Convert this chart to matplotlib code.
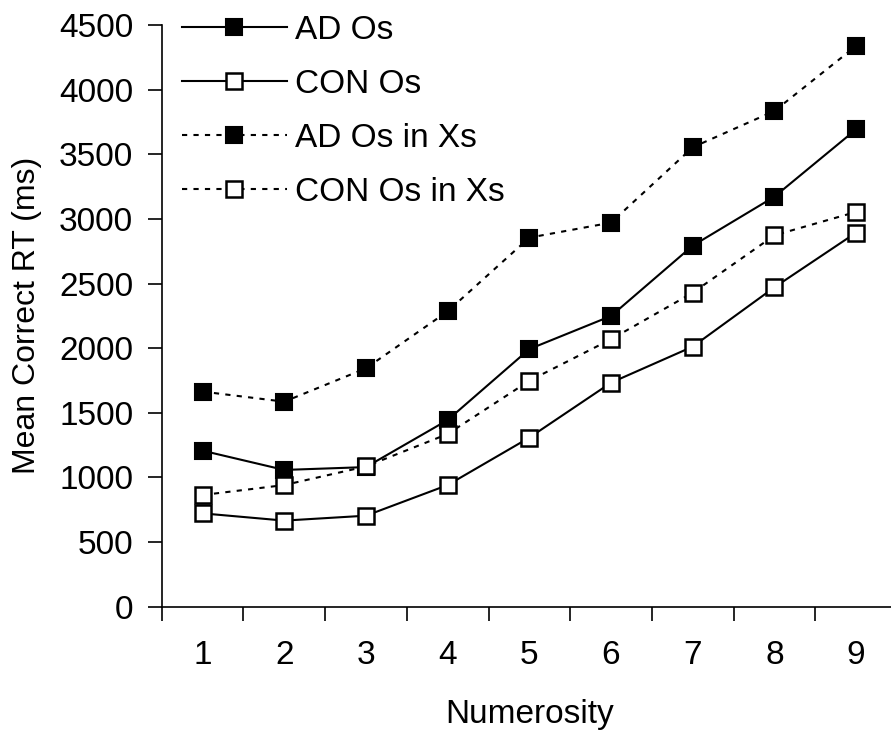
import matplotlib
matplotlib.use("Agg")
import matplotlib.pyplot as plt
from matplotlib.ticker import FixedLocator

plt.rcParams['font.family'] = ['Liberation Sans', 'DejaVu Sans']

numerosity = [1, 2, 3, 4, 5, 6, 7, 8, 9]
ad_os = [1207, 1058, 1080, 1444, 1993, 2249, 2793, 3172, 3693]
con_os = [722, 666, 704, 941, 1308, 1733, 2012, 2471, 2894]
ad_os_in_xs = [1664, 1586, 1844, 2285, 2855, 2971, 3554, 3835, 4338]
con_os_in_xs = [864, 941, 1085, 1336, 1748, 2069, 2429, 2873, 3054]
y_ticks = [0, 500, 1000, 1500, 2000, 2500, 3000, 3500, 4000, 4500]

fig = plt.figure(figsize=(8.91, 7.37), dpi=100)
ax = fig.add_axes([161.7/891, (737-606.7)/737, (897-161.7)/891, (606.7-25)/737])

ms = 12
lw = 1.5
dash = (0, (2.5, 3))
ax.plot(numerosity, ad_os, color='black', lw=lw, ls='-', marker='s', ms=ms,
        mfc='black', mec='black', mew=1.5, label='AD Os', zorder=3)
ax.plot(numerosity, con_os, color='black', lw=lw, ls='-', marker='s', ms=ms,
        mfc='white', mec='black', mew=1.8, label='CON Os', zorder=3)
ax.plot(numerosity, ad_os_in_xs, color='black', lw=lw, ls=dash, marker='s', ms=ms,
        mfc='black', mec='black', mew=1.5, label='AD Os in Xs', zorder=3)
ax.plot(numerosity, con_os_in_xs, color='black', lw=lw, ls=dash, marker='s', ms=ms,
        mfc='white', mec='black', mew=1.8, label='CON Os in Xs', zorder=4)

ax.set_xlim(0.5, 9.5)
ax.set_ylim(0, 4500)
ax.set_yticks(y_ticks)
ax.set_yticklabels([str(v) for v in y_ticks])

ax.set_xticks(numerosity)
ax.set_xticklabels([str(v) for v in numerosity])
ax.xaxis.set_minor_locator(FixedLocator([i + 0.5 for i in range(0, 10)]))
ax.tick_params(axis='x', which='major', length=0, pad=24, labelsize=24)
ax.tick_params(axis='x', which='minor', length=10, width=1.2, direction='out')
ax.tick_params(axis='y', which='major', length=10, width=1.2, direction='out', pad=10.5, labelsize=24)

for s in ['top', 'right']:
    ax.spines[s].set_visible(False)
for s in ['left', 'bottom']:
    ax.spines[s].set_linewidth(1.2)

ax.set_ylabel('Mean Correct RT (ms)', fontsize=23, labelpad=12)
ax.set_xlabel('Numerosity', fontsize=24, labelpad=20)

leg = ax.legend(loc='upper left', bbox_to_anchor=(181.7/891, 1 - 15/737),
                bbox_transform=fig.transFigure, frameon=False, fontsize=24,
                handlelength=3.15, handletextpad=0.24, labelspacing=0.69,
                borderpad=0, borderaxespad=0, numpoints=1)

fig.savefig('out.png', dpi=100)
